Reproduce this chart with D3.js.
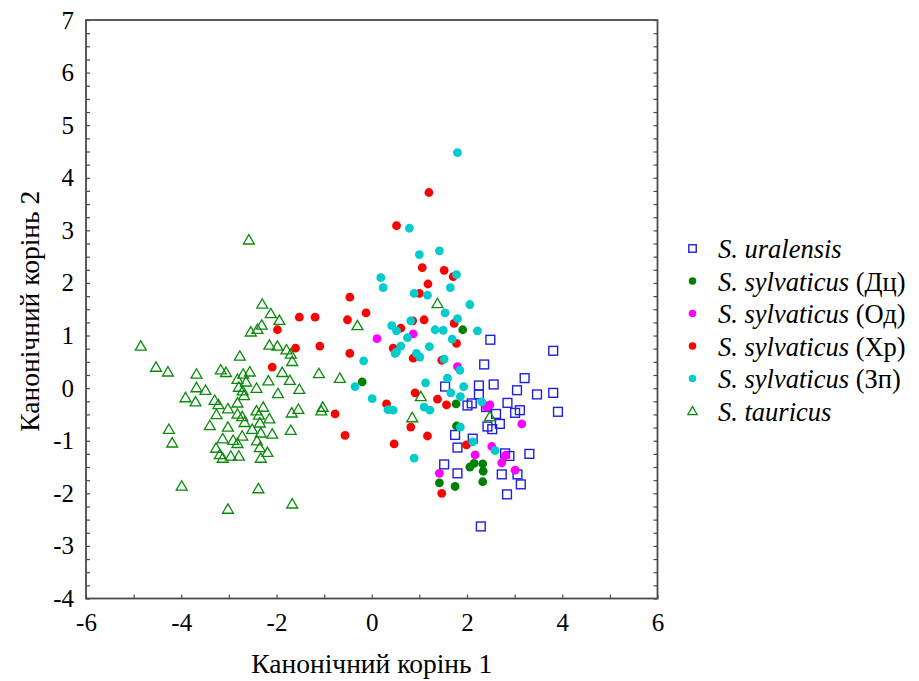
<!DOCTYPE html>
<html><head><meta charset="utf-8">
<script src="https://cdn.jsdelivr.net/npm/d3@7"></script>
<style>body{margin:0;background:#fff}</style>
</head><body>
<svg id="c" width="919" height="681"></svg>
<script>
// ---- data (x = canonical root 1, y = canonical root 2) ----
const uralensis = [[2.49,0.92],[3.81,0.71],[2.36,0.45],[3.21,0.19],[2.25,0.05],[2.25,-0.12],[2.56,0.07],[3.05,-0.04],[3.47,-0.12],[3.81,-0.09],[1.54,0.03],[2.10,-0.29],[2.01,-0.33],[2.85,-0.28],[3.11,-0.42],[3.01,-0.47],[3.91,-0.45],[2.61,-0.49],[2.69,-0.68],[2.43,-0.73],[2.53,-0.78],[1.75,-0.89],[2.12,-0.96],[1.80,-1.13],[2.80,-1.24],[2.89,-1.29],[3.31,-1.25],[1.52,-1.45],[1.80,-1.62],[2.73,-1.64],[3.06,-1.64],[3.13,-1.83],[2.84,-2.02],[2.29,-2.63],[2.40,-0.36]];
const sylvDc = [[-0.20,0.12],[1.91,1.11],[1.77,-0.30],[1.78,-0.72],[2.06,-1.50],[2.15,-1.43],[2.33,-1.44],[2.34,-1.58],[2.33,-1.78],[1.42,-1.80],[1.75,-1.87]];
const sylvOd = [[0.11,0.94],[0.87,1.03],[1.80,0.41],[2.48,-0.32],[2.41,-0.36],[3.15,-0.68],[2.17,-1.27],[2.52,-1.11],[2.81,-1.28],[2.73,-1.42],[3.01,-1.56],[1.42,-1.62]];
const sylvXr = [[-1.98,1.11],[-2.09,0.40],[0.52,3.09],[-0.46,1.73],[-0.12,1.43],[-0.51,1.30],[-1.52,1.35],[-1.19,1.35],[-1.60,0.76],[-1.09,0.80],[-0.46,0.66],[0.45,0.76],[0.31,-0.30],[-0.77,-0.49],[-0.56,-0.90],[0.47,-1.06],[1.20,3.72],[1.06,2.29],[1.52,2.24],[1.71,2.12],[1.18,1.98],[1.00,1.80],[1.10,1.30],[0.86,1.28],[0.61,1.14],[1.73,1.23],[1.78,0.85],[0.87,0.57],[1.47,0.53],[0.91,-0.09],[1.38,-0.21],[1.57,-0.32],[0.82,-0.74],[1.17,-0.91],[1.99,-1.08],[1.47,-2.00]];
const sylvZp = [[0.19,2.10],[0.24,1.91],[0.42,1.19],[0.52,1.09],[0.52,0.69],[-0.17,0.52],[-0.35,0.03],[0.01,-0.20],[0.34,-0.41],[0.45,-0.42],[1.80,4.48],[0.79,3.04],[1.00,2.54],[1.42,2.61],[1.78,2.16],[1.65,1.91],[0.89,1.80],[1.17,1.77],[2.06,1.59],[1.54,1.43],[1.80,1.32],[0.82,1.28],[1.33,1.11],[1.50,1.10],[2.22,1.09],[0.75,0.96],[1.69,0.93],[1.21,0.79],[0.61,0.80],[0.49,0.66],[0.94,0.66],[1.01,0.59],[1.52,0.55],[1.85,0.34],[1.59,0.19],[1.13,0.10],[1.93,0.03],[1.66,-0.09],[1.86,-0.16],[1.10,-0.36],[1.22,-0.42],[1.86,-0.74],[2.12,-1.02],[0.89,-1.33],[2.31,-0.26],[2.59,-1.19]];
const tauricus = [[-2.30,1.60],[-2.12,1.42],[-2.31,1.20],[-2.40,1.12],[-2.54,1.07],[-4.85,0.80],[-2.15,0.82],[-1.98,0.80],[-2.77,0.61],[-4.53,0.40],[-4.28,0.31],[-3.68,0.27],[-3.17,0.35],[-3.06,0.30],[-2.70,0.27],[-2.56,0.31],[-2.82,0.17],[-2.64,0.12],[-2.79,0.02],[-2.71,-0.05],[-2.68,-0.14],[-2.42,0.00],[-2.17,0.14],[-3.68,0.01],[-3.49,-0.04],[-3.91,-0.18],[-3.70,-0.26],[-3.30,-0.23],[-3.22,-0.31],[-3.26,-0.50],[-3.02,-0.39],[-3.40,-0.71],[-3.02,-0.74],[-2.82,-0.28],[-2.82,-0.49],[-2.72,-0.54],[-2.67,-0.65],[-2.42,-0.43],[-2.28,-0.36],[-2.37,-0.51],[-2.35,-0.66],[-2.15,-0.58],[-2.51,-0.78],[-2.33,-0.85],[-2.09,-0.87],[-4.26,-0.78],[-4.19,-1.04],[-3.13,-0.96],[-2.91,-0.99],[-2.72,-0.91],[-2.82,-1.05],[-2.41,-1.00],[-2.35,-1.13],[-2.19,-1.22],[-3.27,-1.14],[-3.19,-1.26],[-3.13,-1.33],[-2.96,-1.29],[-2.79,-1.29],[-2.33,-1.33],[-3.99,-1.86],[-2.38,-1.91],[-3.02,-2.30],[-2.58,2.82],[-1.94,1.29],[-0.30,1.19],[-1.79,0.73],[-1.70,0.65],[-1.67,0.51],[-1.88,0.30],[-1.72,0.15],[-1.11,0.28],[-0.67,0.19],[-1.97,-0.10],[-1.52,-0.02],[-1.03,-0.36],[-1.06,-0.43],[-1.54,-0.40],[-1.68,-0.47],[-1.70,-0.80],[1.38,1.61],[1.03,-0.16],[0.85,-0.56],[2.48,-0.54],[-1.67,-2.20]];

const seriesNames = ["S. uralensis","S. sylvaticus","S. sylvaticus","S. sylvaticus","S. sylvaticus","S. tauricus"];
const seriesSuffix = ["", " (Дц)", " (Од)", " (Хр)", " (Зп)", ""];
const xTickLabels = [-6,-4,-2,0,2,4,6];
const yTickLabels = [-4,-3,-2,-1,0,1,2,3,4,5,6,7];
const xTitle = "Канонічний корінь 1";
const yTitle = "Канонічний корінь 2";

// ---- layout ----
const svg = d3.select("#c");
const L = 86, R = 657.5, T = 20, B = 598.5;
const x = d3.scaleLinear().domain([-6,6]).range([L,R]);
const y = d3.scaleLinear().domain([-4,7]).range([B,T]);
const font = "'Liberation Serif','Times New Roman',serif";
const frameCol = "#4a4a4a";
const fmt = d => String(d);   // plain hyphen minus, as in the original

const series = [
  {data: uralensis, type:"square", color:"#1f1fe0"},
  {data: sylvDc, type:"circle", color:"#008000"},
  {data: sylvOd, type:"circle", color:"#ff00ff"},
  {data: sylvXr, type:"circle", color:"#ff0000"},
  {data: sylvZp, type:"circle", color:"#00cccc"},
  {data: tauricus, type:"triangle", color:"#0a8a0a"}
];

// ticks (inward)
function tickAxis(axis, tr){
  const g = svg.append("g").attr("transform", tr).call(axis);
  g.select(".domain").remove();
  g.selectAll(".tick line").attr("stroke", frameCol).attr("stroke-width",1.2);
  g.selectAll("text").remove();
}
tickAxis(d3.axisLeft(y).tickValues(d3.range(-4,7.001,0.25)).tickSize(-4), `translate(${L},0)`);
tickAxis(d3.axisRight(y).tickValues(d3.range(-4,7.001,0.25)).tickSize(-4), `translate(${R},0)`);
tickAxis(d3.axisBottom(x).tickValues(d3.range(-6,6.001,1)).tickSize(-4), `translate(0,${B})`);

// tick labels
const gyl = svg.append("g").attr("transform",`translate(${L-9},0)`)
  .call(d3.axisLeft(y).tickValues(yTickLabels).tickSize(0).tickFormat(fmt));
gyl.select(".domain").remove();
gyl.selectAll("text").attr("font-family",font).attr("font-size",25).attr("fill","#000");
const gxl = svg.append("g").attr("transform",`translate(0,${B+12})`)
  .call(d3.axisBottom(x).tickValues(xTickLabels).tickSize(0).tickFormat(fmt));
gxl.select(".domain").remove();
gxl.selectAll("text").attr("font-family",font).attr("font-size",25).attr("fill","#000");

// frame
svg.append("rect").attr("x",L).attr("y",T).attr("width",R-L).attr("height",B-T)
  .attr("fill","none").attr("stroke",frameCol).attr("stroke-width",1.8);

// titles
svg.append("text").attr("x",(L+R)/2).attr("y",673).attr("text-anchor","middle")
  .attr("font-family",font).attr("font-size",27.5).text(xTitle);
svg.append("text").attr("transform",`translate(39,${(T+B)/2+2}) rotate(-90)`).attr("text-anchor","middle")
  .attr("font-family",font).attr("font-size",27.5).text(yTitle);

// markers
function drawMarker(g, type, color, cx, cy, s){
  if(type==="circle"){
    g.append("circle").attr("cx",cx).attr("cy",cy).attr("r",4.4*s).attr("fill",color);
  } else if(type==="square"){
    const h=4.4*s;
    g.append("rect").attr("x",cx-h).attr("y",cy-h).attr("width",2*h).attr("height",2*h)
      .attr("fill","none").attr("stroke",color).attr("stroke-width",1.4);
  } else {
    const h=5.2*s;
    g.append("path").attr("d",`M${cx},${cy-h}L${cx+h*1.05},${cy+h*0.8}L${cx-h*1.05},${cy+h*0.8}Z`)
      .attr("fill","none").attr("stroke",color).attr("stroke-width",1.3);
  }
}
const pg = svg.append("g");
series.forEach(s=>{
  s.data.forEach(d=>drawMarker(pg, s.type, s.color, x(d[0]), y(d[1]), 1));
});

// legend
const lg = svg.append("g");
const ly0 = 248.5, lstep = 32.5;
series.forEach((s,i)=>{
  const yy = ly0 + i*lstep;
  drawMarker(lg, s.type, s.color, 692.5, yy, 0.85);
  const t = lg.append("text").attr("x",718).attr("y",yy+9.5).attr("font-family",font).attr("font-size",26.5);
  t.append("tspan").attr("font-style","italic").text(seriesNames[i]);
  if(seriesSuffix[i]) t.append("tspan").text(seriesSuffix[i]);
});
</script>
</body></html>
